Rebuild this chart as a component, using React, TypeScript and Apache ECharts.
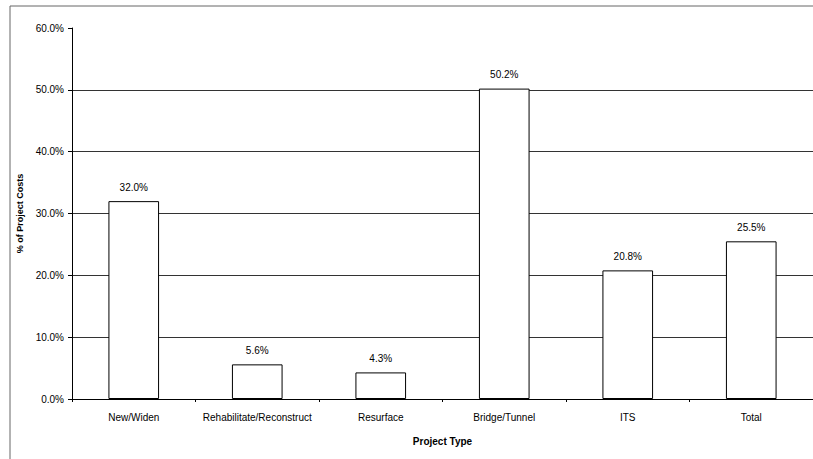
import React, { useEffect, useRef } from "react";
import * as echarts from "echarts";

const categories = ["New/Widen", "Rehabilitate/Reconstruct", "Resurface", "Bridge/Tunnel", "ITS", "Total"];
const values = [32.0, 5.6, 4.3, 50.2, 20.8, 25.5];
const yTicks = [0, 10, 20, 30, 40, 50, 60];

export default function App() {
  const ref = useRef<HTMLDivElement>(null);
  useEffect(() => {
    if (!ref.current) return;
    const chart = echarts.init(ref.current, null, { renderer: "svg" });
    const font = "'Liberation Sans', Arial, sans-serif";
    chart.setOption({
      animation: false,
      backgroundColor: "#ffffff",
      textStyle: { fontFamily: font },
      grid: { left: 72, top: 28, width: 747, height: 371, containLabel: false },
      graphic: [
        {
          type: "polyline",
          shape: { points: [[10, 470], [10, 6], [830, 6]] },
          style: { fill: "none", stroke: "#666", lineWidth: 1 },
          silent: true,
        },
      ],
      xAxis: {
        type: "category",
        data: categories,
        name: "Project Type",
        nameLocation: "middle",
        nameGap: 37,
        nameTextStyle: { fontSize: 10, fontWeight: "bold", color: "#000", fontFamily: font },
        axisLine: { lineStyle: { color: "#000", width: 1 } },
        axisTick: { show: true, length: 3, alignWithLabel: false, lineStyle: { color: "#000" } },
        axisLabel: { fontSize: 10, color: "#000", margin: 13, fontFamily: font, interval: 0 },
      },
      yAxis: {
        type: "value",
        min: yTicks[0],
        max: yTicks[yTicks.length - 1],
        interval: 10,
        name: "% of Project Costs",
        nameLocation: "middle",
        nameGap: 42,
        nameRotate: 90,
        nameTextStyle: { fontSize: 9, fontWeight: "bold", color: "#000", fontFamily: font },
        axisLine: { show: true, lineStyle: { color: "#000", width: 1 } },
        axisTick: { show: true, length: 4, lineStyle: { color: "#000" } },
        axisLabel: {
          fontSize: 10,
          color: "#000",
          margin: 8,
          fontFamily: font,
          formatter: (v: number) => v.toFixed(1) + "%",
        },
        splitLine: { show: true, showMaxLine: false, lineStyle: { color: "#333", width: 1 } },
      },
      series: [
        {
          type: "bar",
          data: values,
          barWidth: "41%",
          itemStyle: { color: "#ffffff", borderColor: "#000", borderWidth: 1 },
          label: {
            show: true,
            position: "top",
            distance: 9,
            fontSize: 10,
            color: "#000",
            fontFamily: font,
            formatter: (p: any) => Number(p.value).toFixed(1) + "%",
          },
        },
      ],
    });
    return () => chart.dispose();
  }, []);
  return (
    <div
      ref={ref}
      style={{ position: "fixed", left: 0, top: 0, width: 813, height: 459, background: "#fff" }}
    />
  );
}
